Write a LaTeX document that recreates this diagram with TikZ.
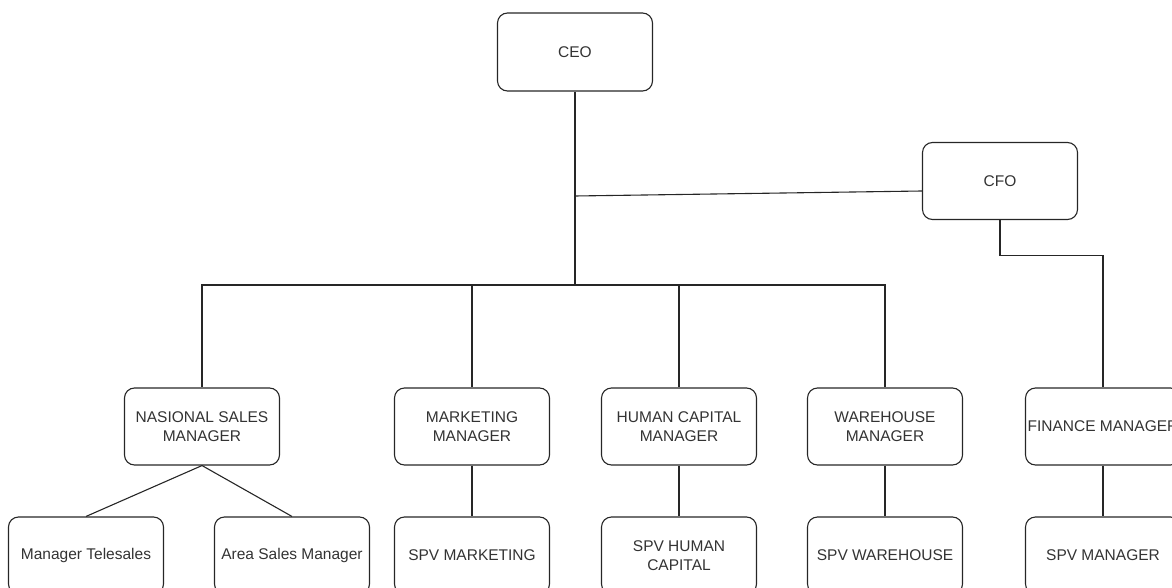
\documentclass[tikz,border=0pt]{standalone}
\usepackage{fontspec}
\setmainfont{Liberation Sans}
\begin{document}
\begin{tikzpicture}[x=1pt,y=-1pt,
  box/.style={draw=black!85,line width=1.1pt,rounded corners=10pt,
    minimum width=155pt,minimum height=77pt,inner sep=0pt,align=center,
    font=\fontsize{15.5}{18.5}\selectfont,text=black!80},
  link/.style={draw=black!85,line width=1.1pt}]
\useasboundingbox (0,0) rectangle (1172,588);
\clip (0,0) rectangle (1172,588);
% top level
\node[box,minimum height=78pt] (ceo) at (575,52) {CEO};
\node[box] (cfo) at (1000,181) {CFO};
% managers
\node[box] (nsm) at (202,426.5) {NASIONAL SALES\\MANAGER};
\node[box] (mkt) at (472,426.5) {MARKETING\\MANAGER};
\node[box] (hcm) at (679,426.5) {HUMAN CAPITAL\\MANAGER};
\node[box] (whm) at (885,426.5) {WAREHOUSE\\MANAGER};
\node[box] (fin) at (1103,426.5) {FINANCE MANAGER};
% staff
\node[box] (tel) at (86,555.5) {Manager Telesales};
\node[box] (asm) at (292,555.5) {Area Sales Manager};
\node[box] (smk) at (472,555.5) {SPV MARKETING};
\node[box] (shc) at (679,555.5) {SPV HUMAN\\CAPITAL};
\node[box] (swh) at (885,555.5) {SPV WAREHOUSE};
\node[box] (smg) at (1103,555.5) {SPV MANAGER};
% connectors
\coordinate (bus) at (575,285);
\coordinate (cfoj) at (575,196);
\draw[link] (ceo.south) -- (bus);
\draw[link] (cfoj) -- ([yshift=-10pt]cfo.west);
\draw[link] (bus) -| (nsm.north);
\draw[link] (bus) -| (mkt.north);
\draw[link] (bus) -| (hcm.north);
\draw[link] (bus) -| (whm.north);
\draw[link] (cfo.south) -- ++(0,35) -| (fin.north);
\draw[link] (nsm.south) -- (tel.north);
\draw[link] (nsm.south) -- (asm.north);
\draw[link] (mkt.south) -- (smk.north);
\draw[link] (hcm.south) -- (shc.north);
\draw[link] (whm.south) -- (swh.north);
\draw[link] (fin.south) -- (smg.north);
\end{tikzpicture}
\end{document}
